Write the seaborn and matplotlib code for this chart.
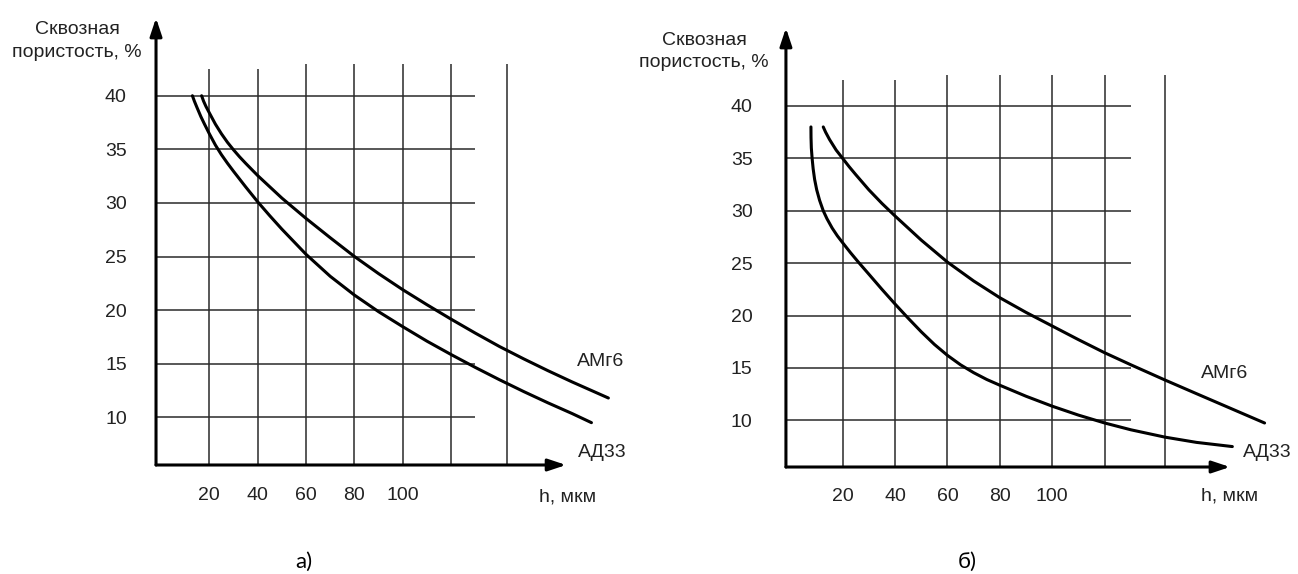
import pandas as pd
import seaborn as sns
import matplotlib.pyplot as plt

# --- data ---
# panel а)
a_amg6_h = [16.8, 17.6, 18.6, 20, 22.5, 25, 27.5, 30, 32.5, 35, 40, 50, 60, 70, 80, 90, 100,
            110, 120, 130, 140, 150, 160, 170, 185]
a_amg6_p = [40.0, 39.5, 39.0, 38.4, 37.35, 36.45, 35.65, 34.95, 34.3, 33.7, 32.55, 30.45, 28.55,
            26.75, 25.0, 23.4, 21.9, 20.5, 19.15, 17.85, 16.6, 15.45, 14.35, 13.3, 11.8]
a_ad33_h = [13, 13.8, 14.8, 16.5, 18, 20, 22.5, 25, 27.5, 30, 35, 40, 45, 50, 60, 70, 80, 90,
            100, 110, 120, 130, 140, 150, 160, 170, 178]
a_ad33_p = [40.0, 39.5, 38.95, 38.05, 37.35, 36.45, 35.4, 34.5, 33.7, 32.95, 31.5, 30.1, 28.8,
            27.55, 25.2, 23.15, 21.4, 19.85, 18.45, 17.1, 15.85, 14.65, 13.5, 12.4, 11.35, 10.35, 9.5]

# panel б)
b_amg6_h = [12.6, 13.5, 15, 17.5, 20, 22.5, 25, 30, 35, 40, 50, 60, 70, 80, 90, 100, 110, 120,
            130, 143, 155, 168, 181]
b_amg6_p = [38.0, 37.5, 36.8, 35.8, 35.0, 34.2, 33.45, 32.0, 30.7, 29.5, 27.2, 25.1, 23.3, 21.7,
            20.3, 19.0, 17.7, 16.45, 15.3, 13.85, 12.55, 11.15, 9.75]
b_ad33_h = [7.9, 7.93, 8.05, 8.35, 8.75, 9.3, 10.1, 11.2, 12.6, 14, 16, 18, 20, 23, 26, 30, 35,
            40, 45, 50, 55, 60, 65, 70, 75, 80, 90, 100, 110, 120, 130, 143, 155, 168.7]
b_ad33_p = [38.0, 37.0, 36.0, 35.0, 34.0, 33.0, 32.0, 31.0, 30.0, 29.25, 28.35, 27.6, 26.95, 26.0,
            25.1, 23.95, 22.5, 21.1, 19.75, 18.45, 17.25, 16.2, 15.3, 14.55, 13.9, 13.35, 12.3,
            11.35, 10.5, 9.75, 9.1, 8.4, 7.9, 7.5]

x_ticks = [20, 40, 60, 80, 100]
y_ticks = [10, 15, 20, 25, 30, 35, 40]
grid_x = [20, 40, 60, 80, 100, 120, 143]
grid_y = [10, 15, 20, 25, 30, 35, 40]

ylabel = "Сквозная\nпористость, %"
xlabel = "h, мкм"

sns.set_theme(style="white")
plt.rcParams["font.family"] = ["Liberation Sans", "DejaVu Sans"]

TXT = "#222222"

fig = plt.figure(figsize=(12.98, 5.74), dpi=100)

panels = [
    dict(rect=[0.1202, 0.1899, 0.3159, 0.7787], xlim=(-2.05, 167.5), ylim=(5.55, 47.25),
         ypad=21, xpad=16, ylab=(-34.7, 45.1), xlab=(168.0, 2.6),
         amg=(a_amg6_h, a_amg6_p), ad=(a_ad33_h, a_ad33_p),
         amg_lab=(181.6, 15.25), ad_lab=(182.4, 6.67), title="а)", title_x=0.2342),
    dict(rect=[0.6055, 0.1864, 0.3421, 0.7648], xlim=(-1.64, 167.8), ylim=(5.55, 47.44),
         ypad=24, xpad=15, ylab=(-32.9, 45.2), xlab=(167.5, 2.8),
         amg=(b_amg6_h, b_amg6_p), ad=(b_ad33_h, b_ad33_p),
         amg_lab=(165.9, 14.52), ad_lab=(182.2, 6.89), title="б)", title_x=0.745),
]

for p in panels:
    ax = fig.add_axes(p["rect"])
    ax.set_facecolor("white")
    x0, x1 = p["xlim"]
    y0, y1 = p["ylim"]

    # grid
    tops = [42.5, 42.5] + [43.0] * (len(grid_x) - 2)
    ax.vlines(grid_x, y0, tops, color="#2a2a2a", lw=1.1, zorder=1)
    ax.hlines(grid_y, x0, 130, color="#2a2a2a", lw=1.1, zorder=1)

    # curves
    for (h, por) in (p["amg"], p["ad"]):
        df = pd.DataFrame({"h": h, "p": por})
        sns.lineplot(data=df, x="h", y="p", ax=ax, color="black", linewidth=2.2,
                     estimator=None, sort=False, zorder=3, clip_on=False,
                     solid_capstyle="round")

    ax.set_xlim(x0, x1)
    ax.set_ylim(y0, y1)
    ax.set_xlabel("")
    ax.set_ylabel("")
    for s in ax.spines.values():
        s.set_visible(False)
    ax.set_xticks(x_ticks)
    ax.set_xticklabels([str(v) for v in x_ticks])
    ax.set_yticks(y_ticks)
    ax.set_yticklabels([str(v) for v in y_ticks])
    ax.tick_params(axis="both", length=0, labelsize=14, labelcolor=TXT)
    ax.tick_params(axis="y", pad=p["ypad"])
    ax.tick_params(axis="x", pad=p["xpad"])
    ax.grid(False)

    # axis arrows
    arrow = dict(arrowstyle="-|>,head_length=0.6,head_width=0.2", mutation_scale=18,
                 lw=2.2, color="black", shrinkA=0, shrinkB=0)
    ax.annotate("", xy=(1, 0), xytext=(0, 0), xycoords="axes fraction",
                arrowprops=arrow, annotation_clip=False)
    ax.annotate("", xy=(0, 1), xytext=(0, 0), xycoords="axes fraction",
                arrowprops=arrow, annotation_clip=False)

    # texts
    ax.text(*p["ylab"], ylabel, ha="center", va="center", fontsize=14, color=TXT,
            linespacing=1.45, clip_on=False)
    ax.text(*p["xlab"], xlabel, ha="center", va="center", fontsize=14, color=TXT, clip_on=False)
    ax.text(*p["amg_lab"], "АМг6", ha="center", va="center", fontsize=14, color=TXT, clip_on=False)
    ax.text(*p["ad_lab"], "АД33", ha="center", va="center", fontsize=14, color=TXT, clip_on=False)

    fig.text(p["title_x"], 0.021, p["title"], ha="center", va="center", fontsize=16,
             family=["Lato", "DejaVu Sans"], color="black")

fig.savefig("out.png", dpi=100, facecolor="white")
